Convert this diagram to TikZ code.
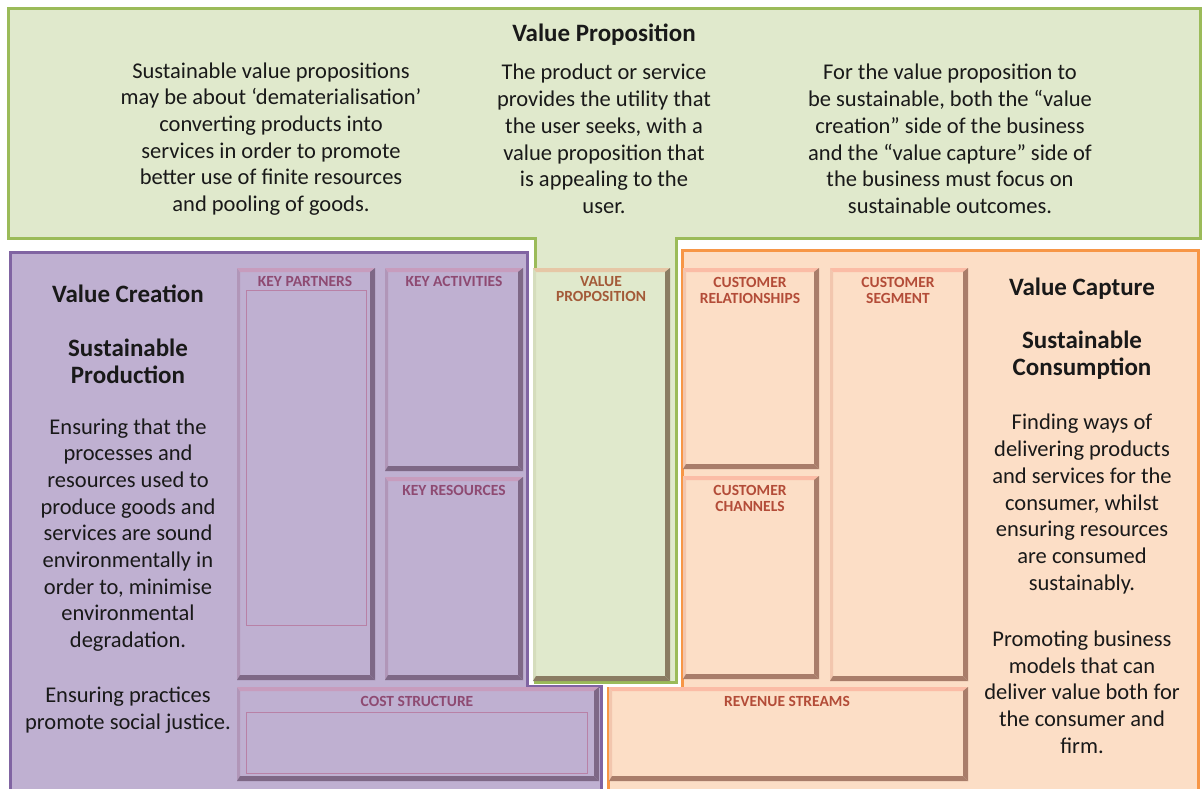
\documentclass[tikz,border=0pt]{standalone}
\usepackage{fontspec}
\setmainfont{Carlito}
\definecolor{gfill}{HTML}{E0E9CC}
\definecolor{gline}{HTML}{9BBB59}
\definecolor{pfill}{HTML}{BFB0D1}
\definecolor{pline}{HTML}{8064A2}
\definecolor{ofill}{HTML}{FCDEC6}
\definecolor{oline}{HTML}{F79646}
\definecolor{ptop}{HTML}{C79CBD}
\definecolor{pleft}{HTML}{B196B8}
\definecolor{pdark}{HTML}{7E6886}
\definecolor{ptext}{HTML}{8E4A72}
\definecolor{pinner}{HTML}{B881A6}
\definecolor{otop}{HTML}{FBBCA6}
\definecolor{oleft}{HTML}{F2C6AE}
\definecolor{odark}{HTML}{A97D6A}
\definecolor{otext}{HTML}{B34C38}
\definecolor{gtop}{HTML}{E6C7A6}
\definecolor{gleft}{HTML}{D5DDBD}
\definecolor{gdark}{HTML}{8A7C62}
\definecolor{gtext}{HTML}{A35A38}
\tikzset{
  bev/.style n args={4}{fill=#1, inner sep=0pt, outer sep=0pt, anchor=north west,
    path picture={
      \coordinate (bnw) at (path picture bounding box.north west);
      \coordinate (bne) at (path picture bounding box.north east);
      \coordinate (bsw) at (path picture bounding box.south west);
      \coordinate (bse) at (path picture bounding box.south east);
      \fill[#3] (bnw) -- ([shift={(3pt,-4pt)}]bnw) -- ([shift={(3pt,5pt)}]bsw) -- (bsw) -- cycle;
      \fill[#2] (bnw) -- (bne) -- ([shift={(-5pt,-4pt)}]bne) -- ([shift={(3pt,-4pt)}]bnw) -- cycle;
      \fill[#4] (bne) -- (bse) -- ([shift={(-5pt,5pt)}]bse) -- ([shift={(-5pt,-4pt)}]bne) -- cycle;
      \fill[#4] (bsw) -- (bse) -- ([shift={(-5pt,5pt)}]bse) -- ([shift={(3pt,5pt)}]bsw) -- cycle;
    }},
  pbox/.style={bev={pfill}{ptop}{pleft}{pdark}},
  obox/.style={bev={ofill}{otop}{oleft}{odark}},
  gbox/.style={bev={gfill}{gtop}{gleft}{gdark}},
  lab/.style={font=\bfseries\fontsize{15.5}{15.5}\selectfont, align=center, inner sep=0pt},
  plab/.style={lab, text=ptext},
  olab/.style={lab, text=otext},
  glab/.style={lab, text=gtext},
  body/.style={font=\fontsize{22.5}{26.7}\selectfont, align=center, inner sep=0pt, text=black!90},
  head/.style={font=\bfseries\fontsize{25}{27}\selectfont, align=center, inner sep=0pt, text=black!90},
  inrect/.style={draw=pinner, line width=1.2pt, inner sep=0pt, anchor=north west},
}
\begin{document}
\begin{tikzpicture}[x=1pt,y=-1pt]
\useasboundingbox[fill=white] (0,0) rectangle (1204,789);
% green region
\fill[gfill] (8,9) -- (1200,9) -- (1200,238) -- (676,238) -- (676,682) -- (535,682) -- (535,238) -- (8,238) -- cycle;
\draw[gline, line width=3pt, line join=miter] (8,9) -- (1200,9) -- (1200,238) -- (676,238) -- (676,682) -- (535,682) -- (535,238) -- (8,238) -- cycle;
% purple region
\fill[pfill] (10,252) -- (527,252) -- (527,686) -- (601,686) -- (601,795) -- (10,795) -- cycle;
\draw[pline, line width=3pt, line join=miter] (10,795) -- (10,252) -- (527,252) -- (527,686) -- (601,686) -- (601,795);
% orange region
\fill[ofill] (682,250) -- (1198,250) -- (1198,795) -- (608,795) -- (608,688) -- (682,688) -- cycle;
\draw[oline, line width=3pt, line join=miter] (1198,795) -- (1198,250) -- (682,250) -- (682,688) -- (608,688) -- (608,795);

% inner boxes
\node[pbox, minimum width=138, minimum height=412] (kp) at (237,268) {};
\node[pbox, minimum width=138, minimum height=203] (ka) at (385,268) {};
\node[pbox, minimum width=138, minimum height=203] (kr) at (385,477) {};
\node[gbox, minimum width=137, minimum height=413] (vp) at (533,268) {};
\node[obox, minimum width=136, minimum height=201] (cr) at (683,268) {};
\node[obox, minimum width=136, minimum height=203] (cc) at (683,476) {};
\node[obox, minimum width=138, minimum height=413] (cs) at (830,268) {};
\node[pbox, minimum width=362, minimum height=94] (cst) at (237,687) {};
\node[obox, minimum width=359, minimum height=94] (rs) at (609,687) {};
\node[inrect, minimum width=120, minimum height=335] (kpin) at (246,290) {};
\node[inrect, minimum width=341, minimum height=61] (cstin) at (246,712) {};

% box labels
\node[plab] (lkp) at (305,281) {KEY PARTNERS};
\node[plab] (lka) at (454,281) {KEY ACTIVITIES};
\node[plab] (lkr) at (454,490) {KEY RESOURCES};
\node[glab] (lvp) at (601,289) {VALUE\\PROPOSITION};
\node[olab] (lcr) at (750,290.5) {CUSTOMER\\RELATIONSHIPS};
\node[olab] (lcc) at (750,498.5) {CUSTOMER\\CHANNELS};
\node[olab] (lcs) at (898,290.5) {CUSTOMER\\SEGMENT};
\node[plab] (lcst) at (417,701) {COST STRUCTURE};
\node[olab] (lrs) at (787,701) {REVENUE STREAMS};

% top texts
\node[head] (vph) at (604,35) {Value Proposition};
\node[body] (t1) at (271,139) {Sustainable value propositions\\may be about `dematerialisation'\\converting products into\\services in order to promote\\better use of finite resources\\and pooling of goods.};
\node[body] (t2) at (604,139) {The product or service\\provides the utility that\\the user seeks, with a\\value proposition that\\is appealing to the\\user.};
\node[body] (t3) at (950,139) {For the value proposition to\\be sustainable, both the ``value\\creation'' side of the business\\and the ``value capture'' side of\\the business must focus on\\sustainable outcomes.};

% value creation
\node[head] (vch) at (128,294) {Value Creation};
\node[head] (vcs) at (128,361) {Sustainable\\Production};
\node[body] (vct) at (128,535) {Ensuring that the\\processes and\\resources used to\\produce goods and\\services are sound\\environmentally in\\order to, minimise\\environmental\\degradation.};
\node[body] (vct2) at (128,710) {Ensuring practices\\promote social justice.};

% value capture
\node[head] (vkh) at (1082,289) {Value Capture};
\node[head] (vks) at (1082,355) {Sustainable\\Consumption};
\node[body] (vkt) at (1082,504) {Finding ways of\\delivering products\\and services for the\\consumer, whilst\\ensuring resources\\are consumed\\sustainably.};
\node[body] (vkt2) at (1082,692) {Promoting business\\models that can\\deliver value both for\\the consumer and\\firm.};
\end{tikzpicture}
\end{document}
